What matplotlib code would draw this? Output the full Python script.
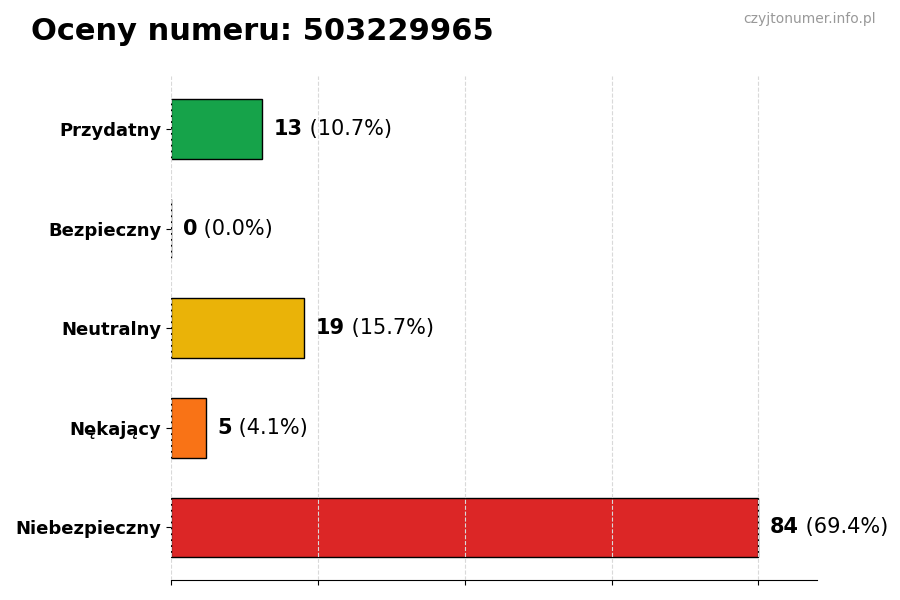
import matplotlib
matplotlib.use("Agg")
import matplotlib.pyplot as plt

categories = ["Przydatny", "Bezpieczny", "Neutralny", "Nękający", "Niebezpieczny"]
values = [13, 0, 19, 5, 84]
colors = ["#16a34a", "#6b7280", "#eab308", "#f97316", "#dc2626"]
ticks = [0, 21, 42, 63, 84]

total = sum(values)

fig = plt.figure(figsize=(9, 6), dpi=100)
ax = fig.add_axes([0.19, 0.033, 0.718, 0.840])

y = list(range(len(categories)))
ax.barh(y, values, height=0.6, color=colors, edgecolor="black", linewidth=1)
ax.invert_yaxis()
ax.set_yticks(y)
ax.set_yticklabels(categories, fontsize=13, fontweight="bold")
ax.set_xticks(ticks)
ax.set_xticklabels([])
ax.set_xlim(0, max(values) * 1.1)
ax.grid(axis="x", linestyle="--", color="#d9d9d9", linewidth=0.8)
ax.set_axisbelow(False)
for s in ["top", "right", "left"]:
    ax.spines[s].set_visible(False)

off = max(values) * 0.02
for i, v in enumerate(values):
    pct = v / total * 100
    t = ax.annotate(f"{v}", xy=(v + off, i), va="center", ha="left",
                    fontsize=15, fontweight="bold")
    ax.annotate(f" ({pct:.1f}%)", xycoords=t, xy=(1, 0.5), va="center",
                ha="left", fontsize=15)

fig.text(0.034, 0.947, "Oceny numeru: 503229965", fontsize=22, fontweight="bold",
         ha="left", va="center")
fig.text(0.973, 0.969, "czyjtonumer.info.pl", fontsize=10, color="#999999",
         ha="right", va="center")

fig.savefig("out.png", dpi=100)
